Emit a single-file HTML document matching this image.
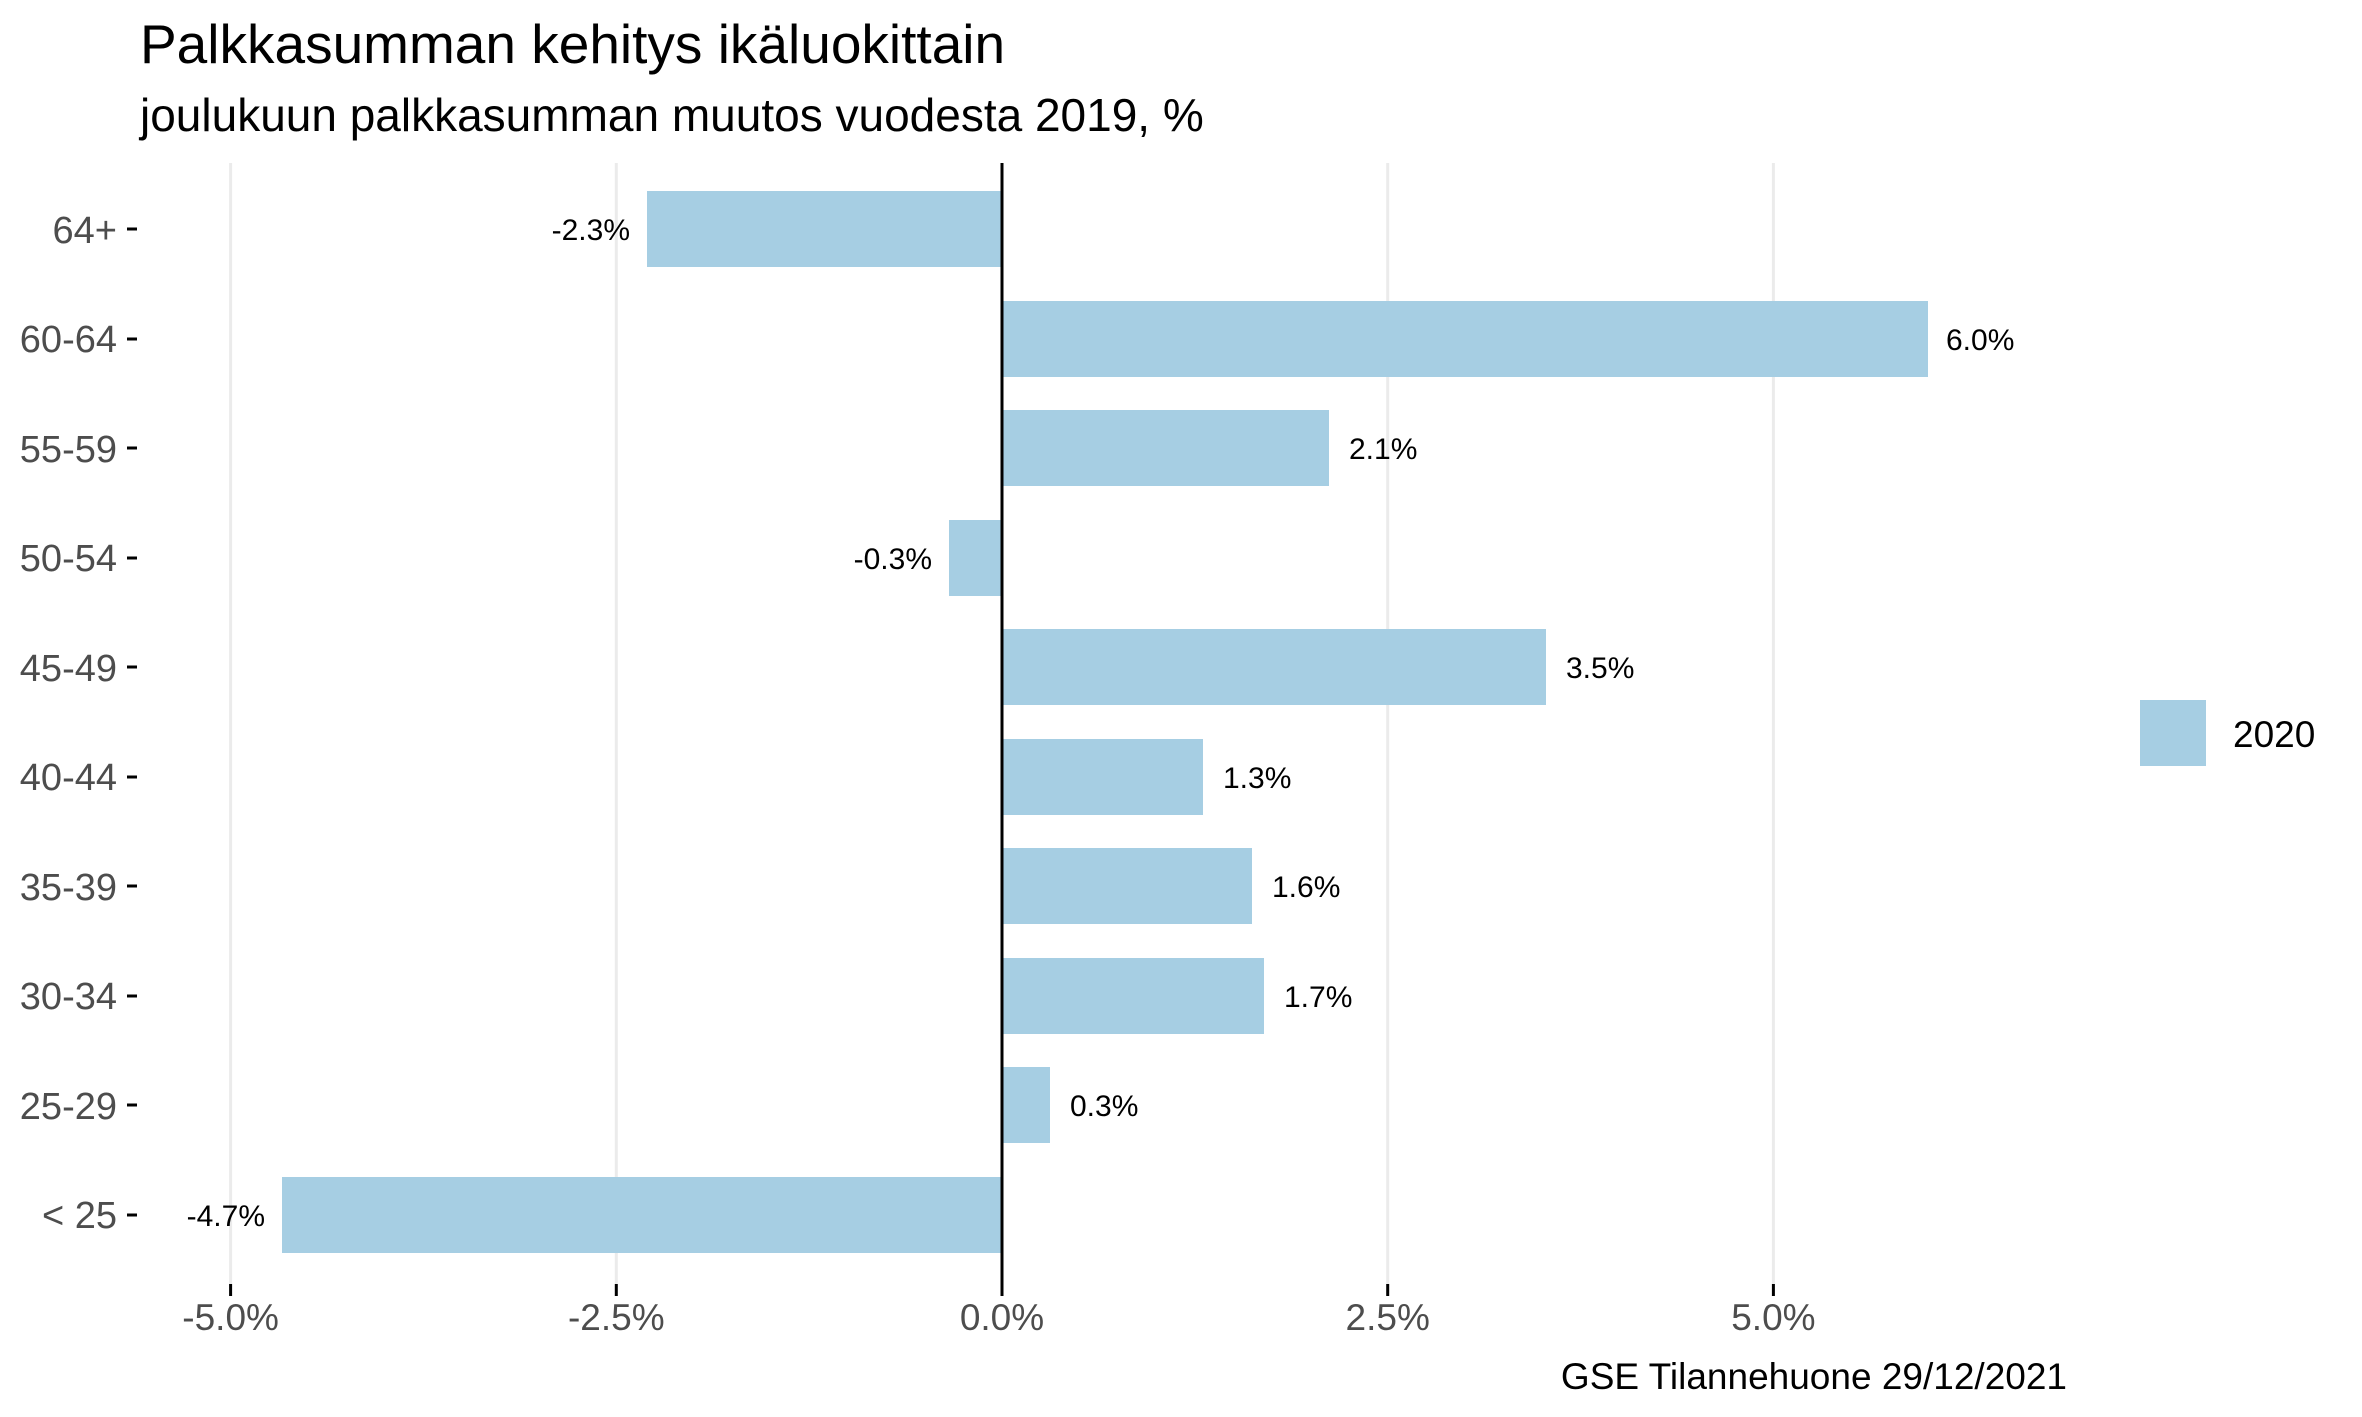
<!DOCTYPE html>
<html><head><meta charset="utf-8"><style>
html,body{margin:0;padding:0;background:#fff;}
svg{display:block;}
text{font-family:"Liberation Sans",Arial,sans-serif;}
</style></head><body>
<svg width="2362" height="1417" viewBox="0 0 2362 1417" xmlns="http://www.w3.org/2000/svg">
<rect width="2362" height="1417" fill="#fff"/>
<text x="140" y="63" font-size="55" fill="#000">Palkkasumman kehitys ikäluokittain</text>
<text x="140" y="131" font-size="46" fill="#000">joulukuun palkkasumman muutos vuodesta 2019, %</text>
<g stroke="#ebebeb" stroke-width="3">
<line x1="230.6" y1="163" x2="230.6" y2="1284"/>
<line x1="616.3" y1="163" x2="616.3" y2="1284"/>
<line x1="1387.7" y1="163" x2="1387.7" y2="1284"/>
<line x1="1773.4" y1="163" x2="1773.4" y2="1284"/>
</g>
<g fill="#a6cee3">
<rect x="647" y="191" width="355" height="76"/>
<rect x="1002" y="301" width="926" height="76"/>
<rect x="1002" y="410" width="327" height="76"/>
<rect x="949" y="520" width="53" height="76"/>
<rect x="1002" y="629" width="544" height="76"/>
<rect x="1002" y="739" width="201" height="76"/>
<rect x="1002" y="848" width="250" height="76"/>
<rect x="1002" y="958" width="262" height="76"/>
<rect x="1002" y="1067" width="48" height="76"/>
<rect x="282" y="1177" width="720" height="76"/>
</g>
<line x1="1002" y1="163" x2="1002" y2="1284" stroke="#000" stroke-width="3"/>
<g font-size="30" fill="#000">
<text x="630" y="240" text-anchor="end">-2.3%</text>
<text x="1946" y="350">6.0%</text>
<text x="1349" y="459">2.1%</text>
<text x="932" y="569" text-anchor="end">-0.3%</text>
<text x="1566" y="678">3.5%</text>
<text x="1223" y="788">1.3%</text>
<text x="1272" y="897">1.6%</text>
<text x="1284" y="1007">1.7%</text>
<text x="1070" y="1116">0.3%</text>
<text x="265" y="1226" text-anchor="end">-4.7%</text>
</g>
<g font-size="38" fill="#4d4d4d" text-anchor="end">
<text x="117" y="243">64+</text>
<text x="117" y="352">60-64</text>
<text x="117" y="462">55-59</text>
<text x="117" y="571">50-54</text>
<text x="117" y="681">45-49</text>
<text x="117" y="790">40-44</text>
<text x="117" y="900">35-39</text>
<text x="117" y="1009">30-34</text>
<text x="117" y="1119">25-29</text>
<text x="117" y="1228">&lt; 25</text>
</g>
<g stroke="#000" stroke-width="3">
<line x1="127" y1="229" x2="137" y2="229"/>
<line x1="127" y1="339" x2="137" y2="339"/>
<line x1="127" y1="448" x2="137" y2="448"/>
<line x1="127" y1="558" x2="137" y2="558"/>
<line x1="127" y1="667" x2="137" y2="667"/>
<line x1="127" y1="777" x2="137" y2="777"/>
<line x1="127" y1="886" x2="137" y2="886"/>
<line x1="127" y1="996" x2="137" y2="996"/>
<line x1="127" y1="1105" x2="137" y2="1105"/>
<line x1="127" y1="1215" x2="137" y2="1215"/>
<line x1="230.6" y1="1284" x2="230.6" y2="1296"/>
<line x1="616.3" y1="1284" x2="616.3" y2="1296"/>
<line x1="1002" y1="1284" x2="1002" y2="1296"/>
<line x1="1387.7" y1="1284" x2="1387.7" y2="1296"/>
<line x1="1773.4" y1="1284" x2="1773.4" y2="1296"/>
</g>
<g font-size="37" fill="#4d4d4d" text-anchor="middle">
<text x="230.6" y="1330">-5.0%</text>
<text x="616.3" y="1330">-2.5%</text>
<text x="1002" y="1330">0.0%</text>
<text x="1387.7" y="1330">2.5%</text>
<text x="1773.4" y="1330">5.0%</text>
</g>
<rect x="2140" y="700" width="66" height="66" fill="#a6cee3"/>
<text x="2233" y="747" font-size="37" fill="#000">2020</text>
<text x="2067" y="1389" font-size="37" fill="#000" text-anchor="end">GSE Tilannehuone 29/12/2021</text>
</svg>
</body></html>
